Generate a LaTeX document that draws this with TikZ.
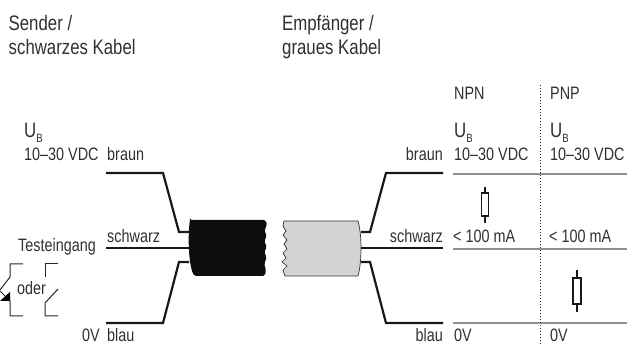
\documentclass[tikz,border=0pt]{standalone}
\usepackage{fontspec}
\setmainfont[FakeStretch=0.8]{Liberation Sans}
\definecolor{txtgrey}{HTML}{303030}
\definecolor{railgrey}{HTML}{8E8E93}
\definecolor{cablegrey}{HTML}{D1D3D4}
\tikzset{
  lbl/.style={inner sep=0pt,anchor=base west,text=txtgrey,font=\fontsize{18}{18}\selectfont},
  lblr/.style={lbl,anchor=base east},
  lblhead/.style={lbl,font=\fontsize{21}{21}\selectfont},
  wire/.style={line width=2.2pt,black!90,line join=miter},
  rail/.style={line width=1.8pt,railgrey},
  thin line/.style={line width=1pt,black!85},
  resistor/.style={line width=1.3pt,black!90},
}
\begin{document}
\begin{tikzpicture}[x=1pt,y=-1pt]
\useasboundingbox (0,0) rectangle (627,344);
% headings
\node[lblhead] (sender) at (8.5,31) {Sender /};
\node[lblhead] (senderb) at (8.5,55) {schwarzes Kabel};
\node[lblhead] (empf) at (282,31) {Empfänger /};
\node[lblhead] (empfb) at (282,55) {graues Kabel};
\node[lbl] (npn) at (454,100) {NPN};
\node[lbl] (pnp) at (550,100) {PNP};
% supply labels
\foreach \n/\x in {ub/24,ubn/454,ubp/550} {
  \node[lblhead] (\n) at (\x,138) {U\raisebox{-4.5pt}{\fontsize{12}{12}\selectfont B}};
  \node[lbl] (\n v) at (\x,161) {10–30 VDC};
}
\foreach \n/\x in {cn/453,cp/549} {
  \node[lbl] (\n) at (\x,243) {< 100 mA};
}
\foreach \n/\x in {zn/454,zp/550} {
  \node[lbl] (\n) at (\x,342) {0V};
}
\node[lbl] (lbraun) at (107,161) {braun};
\node[lblr] (rbraun) at (443,161) {braun};
\node[lbl] (lschwarz) at (107,243) {schwarz};
\node[lblr] (rschwarz) at (443,243) {schwarz};
\node[lbl] (lblau) at (107,342) {blau};
\node[lblr] (rblau) at (443,342) {blau};
\node[lblr] (lzero) at (100,342) {0V};
\node[lbl] (test) at (18,252) {Testeingang};
\node[lbl] (oder) at (17,295) {oder};
% cables
\fill[black!95,rounded corners=2pt] (190,220) -- (266,220) -- (267,226) -- (264,230) -- (267,236)
  -- (264,241) -- (267,247) -- (264,252) -- (267,258) -- (264,263) -- (266,270) -- (265,276)
  -- (194,276) .. controls (188,262) and (188,234) .. (190,220) -- cycle;
\draw[draw=black!80,fill=cablegrey,line width=0.7pt] (284,221) -- (358,221) .. controls (362,234) and (362,262) .. (358,276)
  -- (285,276) -- (283,270) -- (287,266) -- (282,262) -- (286,258) -- (283,253) -- (287,249) -- (284,244)
  -- (287,240) -- (283,235) -- (286,231) -- (283,226) -- cycle;
% wires
\coordinate (a1) at (106,173); \coordinate (a2) at (163,173); \coordinate (a3) at (179,232); \coordinate (a4) at (189,232);
\coordinate (b1) at (106,248); \coordinate (b2) at (189,248);
\coordinate (c1) at (106,323); \coordinate (c2) at (163,323); \coordinate (c3) at (179,262); \coordinate (c4) at (189,262);
\coordinate (d1) at (443,173); \coordinate (d2) at (386,173); \coordinate (d3) at (370,232); \coordinate (d4) at (361,232);
\coordinate (e1) at (443,248); \coordinate (e2) at (361,248);
\coordinate (f1) at (443,323); \coordinate (f2) at (386,323); \coordinate (f3) at (370,262); \coordinate (f4) at (361,262);
\draw[wire] (a1) -- (a2) -- (a3) -- (a4);
\draw[wire] (b1) -- (b2);
\draw[wire] (c1) -- (c2) -- (c3) -- (c4);
\draw[wire] (d1) -- (d2) -- (d3) -- (d4);
\draw[wire] (e1) -- (e2);
\draw[wire] (f1) -- (f2) -- (f3) -- (f4);
% rails
\foreach \y in {174,249,323} {
  \draw[rail] (453,\y) -- (627,\y);
}
\draw[line width=1pt,black!85,dash pattern=on 1pt off 2pt] (540,85) -- (540,344);
% loads
\draw[resistor] (485,187) -- (485,193);
\draw[resistor] (485,216) -- (485,223);
\draw[resistor] (481.5,193) rectangle (488.5,216);
\draw[resistor] (577,270) -- (577,278);
\draw[resistor] (577,304) -- (577,312);
\draw[resistor] (573,278) rectangle (581,304);
% switches
\draw[thin line] (23,264) -- (10,264) -- (10,277) -- (0,290);
\draw[thin line] (-1,290) -- (10,301) -- (10,316) -- (23,316);
\fill[black] (10,292) -- (10,301) -- (0,301) -- cycle;
\draw[thin line] (58,264) -- (45,264) -- (45,277);
\draw[thin line] (58,316) -- (45,316) -- (45,303) -- (58,289);
\end{tikzpicture}
\end{document}
